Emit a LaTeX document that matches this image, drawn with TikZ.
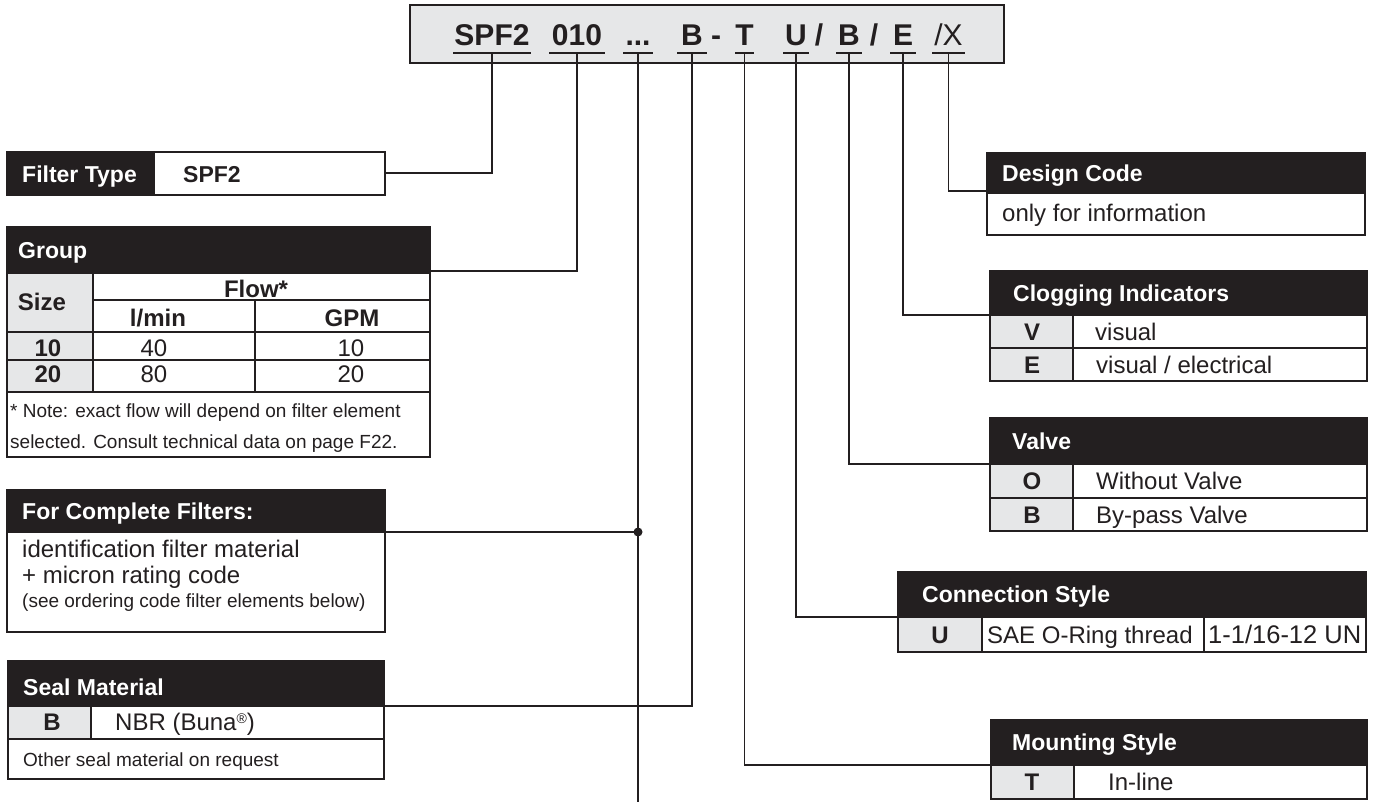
\documentclass[tikz,border=0pt]{standalone}
\usepackage{fontspec}
\setmainfont{Liberation Sans}
\definecolor{ink}{HTML}{231F20}
\definecolor{cellgray}{HTML}{E6E7E8}
\begin{document}
\begin{tikzpicture}[x=1pt,y=-1pt,
  frame/.style={draw=ink, line width=1.8pt},
  thin/.style={draw=ink, line width=1.4pt},
  conn/.style={draw=ink, line width=1.8pt},
  hdrfill/.style={fill=ink, draw=ink, line width=1.8pt},
  codetxt/.style={anchor=base, inner sep=0pt, text=ink, font=\fontsize{30}{30}\selectfont\bfseries},
  codereg/.style={anchor=base, inner sep=0pt, text=ink, font=\fontsize{30}{30}\selectfont},
  hdrtxt/.style={anchor=base west, inner sep=0pt, text=white, font=\fontsize{23}{23}\selectfont\bfseries},
  bodytxt/.style={anchor=base west, inner sep=0pt, text=ink, font=\fontsize{24}{24}\selectfont},
  keytxt/.style={anchor=base, inner sep=0pt, text=ink, font=\fontsize{24}{24}\selectfont\bfseries},
  numtxt/.style={anchor=base, inner sep=0pt, text=ink, font=\fontsize{24}{24}\selectfont},
  smalltxt/.style={anchor=base west, inner sep=0pt, text=ink, font=\fontsize{19}{19}\selectfont},
  ultick/.style={draw=ink, line width=1.8pt}
]
\useasboundingbox (0,0) rectangle (1377,804);

% ---------- code box ----------
\draw[frame, fill=cellgray] (410,5) rectangle (1004,63);
\foreach \n/\cx/\t/\l/\r in {spf/492/SPF2/453/531, grp/577/010/549/605, seal/692/B/677/707, mnt/744.5/T/735/754, con/796/U/783/809, val/849/B/836/862, clg/903/E/890/916}{
  \node[codetxt] (\n) at (\cx,45) {\t};
  \draw[ultick] (\l,53) -- (\r,53);
  \coordinate (u\n) at (\cx,53);
}
\node[codetxt] (dots) at (638,45) {.\kern0pt.\kern0pt.};
\draw[ultick] (623,53) -- (653,53);
\coordinate (udots) at (638,53);
\node[codereg] (dsg) at (948.5,45) {/X};
\draw[ultick] (932,53) -- (965,53);
\coordinate (udsg) at (948.5,53);
\node[codetxt] (sep1) at (716,45) {-};
\node[codetxt] (sep2) at (819,45) {/};
\node[codetxt] (sep3) at (874,45) {/};

% ---------- Filter Type ----------
\fill[ink] (7,152) rectangle (155,195);
\draw[frame] (7,152) rectangle (385,195);
\node[hdrtxt] (ftl) at (22,182) {Filter Type};
\node[anchor=base west, inner sep=0pt, text=ink, font=\fontsize{23}{23}\selectfont\bfseries] (ftv) at (183,182) {SPF2};
\coordinate (ftR) at (385,173);

% ---------- Group ----------
\draw[hdrfill] (7,227) rectangle (430,273);
\fill[cellgray] (7,273) rectangle (93,392);
\draw[thin] (93,300) -- (430,300);
\draw[thin] (7,332) -- (430,332);
\draw[thin] (7,360) -- (430,360);
\draw[thin] (7,392) -- (430,392);
\draw[thin] (93,273) -- (93,392);
\draw[thin] (255,300) -- (255,392);
\draw[frame] (7,273) rectangle (430,457);
\node[hdrtxt] (grph) at (18,258) {Group};
\node[keytxt] (gsize) at (42,310) {Size};
\node[keytxt] (gflow) at (256,297) {Flow*};
\node[keytxt] (glmin) at (158,326) {l/min};
\node[keytxt] (ggpm) at (352,326) {GPM};
\node[keytxt] (g10) at (48,356) {10};
\node[numtxt] (g40) at (154,356) {40};
\node[numtxt] (g10b) at (351,356) {10};
\node[keytxt] (g20) at (48,382) {20};
\node[numtxt] (g80) at (154,382) {80};
\node[numtxt] (g20b) at (351,382) {20};
\node[smalltxt] (gn1) at (10,417) {* Note: exact flow will depend on filter element};
\node[smalltxt] (gn2) at (10,448) {selected. Consult technical data on page F22.};
\coordinate (grpR) at (430,271);

% ---------- For Complete Filters ----------
\draw[hdrfill] (7,490) rectangle (385,532);
\draw[frame] (7,532) rectangle (385,632);
\node[hdrtxt] (cfh) at (22,519) {For Complete Filters:};
\node[bodytxt] (cf1) at (22,557) {identification filter material};
\node[bodytxt] (cf2) at (22,583) {+ micron rating code};
\node[smalltxt] (cf3) at (22,607) {(see ordering code filter elements below)};
\coordinate (cfR) at (385,532);

% ---------- Seal Material ----------
\draw[hdrfill] (8,661) rectangle (384,706);
\fill[cellgray] (8,706) rectangle (91,739);
\draw[thin] (8,739) -- (384,739);
\draw[thin] (91,706) -- (91,739);
\draw[frame] (8,706) rectangle (384,779);
\node[hdrtxt] (smh) at (23,695) {Seal Material};
\node[keytxt] (smk) at (52,730) {B};
\node[bodytxt] (smv) at (115,730) {NBR (Buna{\fontsize{14}{14}\selectfont\raisebox{7pt}{®}})};
\node[smalltxt] (smo) at (23,766) {Other seal material on request};
\coordinate (smR) at (384,706);

% ---------- Design Code ----------
\draw[hdrfill] (987,153) rectangle (1365,193);
\draw[frame] (987,193) rectangle (1365,235);
\node[hdrtxt] (dch) at (1002,181) {Design Code};
\node[bodytxt] (dcv) at (1002,221) {only for information};
\coordinate (dcL) at (987,191);

% ---------- Clogging Indicators ----------
\draw[hdrfill] (990,271) rectangle (1367,315);
\fill[cellgray] (990,315) rectangle (1073,381);
\draw[thin] (990,348) -- (1367,348);
\draw[thin] (1073,315) -- (1073,381);
\draw[frame] (990,315) rectangle (1367,381);
\node[hdrtxt] (cih) at (1013,301) {Clogging Indicators};
\node[keytxt] (civk) at (1032,340) {V};
\node[bodytxt] (civ) at (1095,340) {visual};
\node[keytxt] (ciek) at (1032,373) {E};
\node[bodytxt] (cie) at (1096,373) {visual / electrical};
\coordinate (ciL) at (990,315);

% ---------- Valve ----------
\draw[hdrfill] (990,418) rectangle (1367,464);
\fill[cellgray] (990,464) rectangle (1073,531);
\draw[thin] (990,498) -- (1367,498);
\draw[thin] (1073,464) -- (1073,531);
\draw[frame] (990,464) rectangle (1367,531);
\node[hdrtxt] (vah) at (1012,449) {Valve};
\node[keytxt] (vaok) at (1032,489.5) {O};
\node[bodytxt] (vao) at (1096,489.5) {Without Valve};
\node[keytxt] (vabk) at (1032,523) {B};
\node[bodytxt] (vab) at (1096,523) {By-pass Valve};
\coordinate (vaL) at (990,464);

% ---------- Connection Style ----------
\draw[hdrfill] (898,572) rectangle (1366,617);
\fill[cellgray] (898,617) rectangle (982,652);
\draw[thin] (982,617) -- (982,652);
\draw[thin] (1204,617) -- (1204,652);
\draw[frame] (898,617) rectangle (1366,652);
\node[hdrtxt] (csh) at (922,602.5) {Connection Style};
\node[keytxt] (csk) at (940,643) {U};
\node[bodytxt] (csv) at (987,643) {SAE O-Ring thread};
\node[anchor=base west, inner sep=0pt, text=ink, font=\fontsize{25.5}{25.5}\selectfont] (cst) at (1208,643) {1-1/16-12 UN};
\coordinate (csL) at (898,617);

% ---------- Mounting Style ----------
\draw[hdrfill] (991,720) rectangle (1367,765);
\fill[cellgray] (991,765) rectangle (1074,799);
\draw[thin] (1074,765) -- (1074,799);
\draw[frame] (991,765) rectangle (1367,799);
\node[hdrtxt] (msh) at (1012,750.5) {Mounting Style};
\node[keytxt] (msk) at (1032,790.5) {T};
\node[bodytxt] (msv) at (1108,790.5) {In-line};
\coordinate (msL) at (991,765);

% ---------- connectors ----------
\draw[conn] (uspf) |- (ftR);
\draw[conn] (ugrp) |- (grpR);
\coordinate (dotsEnd) at (638,802);
\coordinate (dotsJ) at (638,532);
\draw[conn] (udots) -- (dotsEnd);
\draw[conn] (dotsJ) -- (cfR);
\fill[ink] (dotsJ) circle (4.5);
\draw[conn] (useal) |- (smR);
\draw[conn] (umnt) |- (msL);
\draw[conn] (ucon) |- (csL);
\draw[conn] (uval) |- (vaL);
\draw[conn] (uclg) |- (ciL);
\draw[conn] (udsg) |- (dcL);
\end{tikzpicture}
\end{document}
